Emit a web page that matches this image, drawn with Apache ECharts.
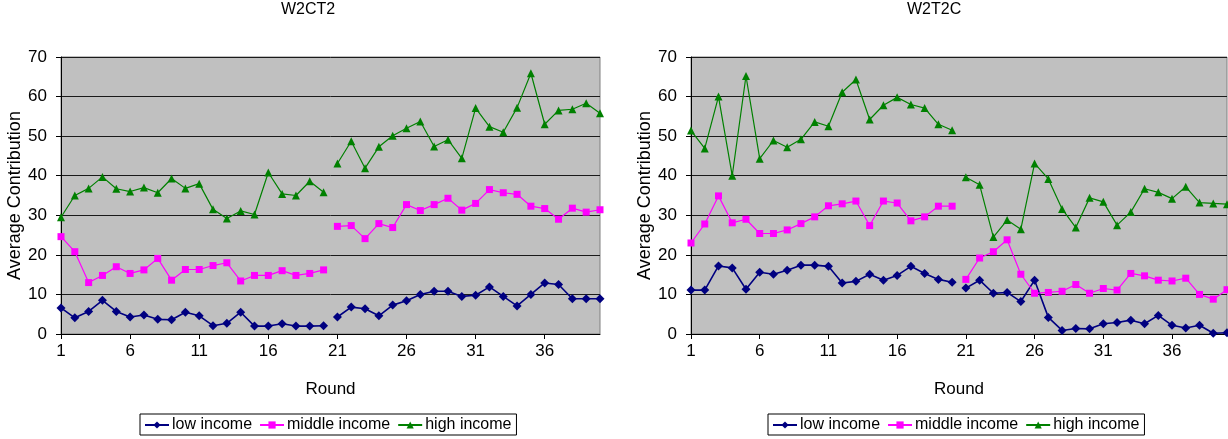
<!DOCTYPE html>
<html>
<head>
<meta charset="utf-8">
<script src="https://cdn.jsdelivr.net/npm/echarts@6/dist/echarts.min.js"></script>
<style>
  html, body { margin: 0; padding: 0; background: #fff; }
  #chart { width: 1228px; height: 439px; }
</style>
</head>
<body>
<div id="chart"></div>
<script>
// Rounds 1..40; the two treatment blocks are rounds 1-20 and 21-40
const rounds = Array.from({ length: 40 }, (_, i) => String(i + 1));
const titles = ['W2CT2', 'W2T2C'];
const seriesNames = ['low income', 'middle income', 'high income'];

// W2CT2 — first block (rounds 1-20) and second block (rounds 21-40)
const w2ct2LowA  = [6.6, 4.1, 5.7, 8.5, 5.7, 4.3, 4.8, 3.7, 3.6, 5.5, 4.6, 2.1, 2.7, 5.5, 2.0, 2.0, 2.6, 2.0, 2.0, 2.1];
const w2ct2LowB  = [4.3, 6.8, 6.4, 4.6, 7.3, 8.4, 10.0, 10.8, 10.8, 9.5, 9.8, 11.9, 9.5, 7.1, 10.0, 12.9, 12.5, 8.9, 8.9, 8.9];
const w2ct2MidA  = [24.6, 20.8, 13.0, 14.8, 17.0, 15.3, 16.2, 19.1, 13.6, 16.3, 16.3, 17.3, 18.0, 13.4, 14.8, 14.8, 16.0, 14.8, 15.3, 16.2];
const w2ct2MidB  = [27.2, 27.4, 24.1, 27.9, 26.9, 32.7, 31.2, 32.7, 34.3, 31.3, 33.0, 36.5, 35.7, 35.3, 32.3, 31.7, 29.0, 31.8, 30.8, 31.4];
const w2ct2HighA = [29.5, 35.0, 36.8, 39.7, 36.7, 36.0, 37.0, 35.7, 39.3, 36.8, 38.0, 31.5, 29.2, 31.1, 30.2, 40.8, 35.4, 35.0, 38.6, 35.8];
const w2ct2HighB = [43.1, 48.7, 41.9, 47.3, 50.1, 52.0, 53.7, 47.4, 49.1, 44.4, 57.1, 52.4, 51.0, 57.2, 65.9, 53.0, 56.5, 56.8, 58.3, 55.8];

// W2T2C — first block (rounds 1-20) and second block (rounds 21-40)
const w2t2cLowA  = [11.1, 11.1, 17.2, 16.7, 11.3, 15.6, 15.1, 16.1, 17.4, 17.4, 17.1, 12.9, 13.3, 15.1, 13.6, 14.8, 17.1, 15.3, 13.8, 13.1];
const w2t2cLowB  = [11.6, 13.6, 10.3, 10.5, 8.2, 13.6, 4.2, 0.9, 1.4, 1.3, 2.6, 2.9, 3.5, 2.6, 4.7, 2.2, 1.5, 2.2, 0.2, 0.3];
const w2t2cMidA  = [23.0, 27.8, 34.9, 28.1, 29.0, 25.4, 25.4, 26.3, 27.9, 29.6, 32.4, 32.9, 33.6, 27.4, 33.6, 33.1, 28.6, 29.6, 32.3, 32.3];
const w2t2cMidB  = [13.8, 19.2, 20.8, 23.8, 15.1, 10.3, 10.5, 10.8, 12.5, 10.3, 11.5, 11.1, 15.3, 14.7, 13.6, 13.4, 14.1, 10.0, 8.8, 11.2];
const w2t2cHighA = [51.4, 46.9, 60.0, 40.0, 65.2, 44.3, 48.9, 47.2, 49.2, 53.6, 52.5, 61.1, 64.3, 54.2, 57.8, 59.8, 58.0, 57.1, 53.0, 51.5];
const w2t2cHighB = [39.6, 37.7, 24.5, 28.8, 26.5, 43.1, 39.2, 31.6, 26.9, 34.4, 33.4, 27.5, 30.8, 36.7, 35.8, 34.2, 37.2, 33.2, 33.0, 32.8];

const FONT = 'Liberation Sans, Arial, sans-serif';
const styles = [
  { color: '#000080', symbol: 'diamond',  symbolSize: 9, width: 1.6 },
  { color: '#FF00FF', symbol: 'rect',     symbolSize: 7, width: 1.2 },
  { color: '#008000', symbol: 'triangle', symbolSize: 8, width: 1.2 }
];

const blank = new Array(20).fill(null);
const panels = [
  [[w2ct2LowA, w2ct2LowB], [w2ct2MidA, w2ct2MidB], [w2ct2HighA, w2ct2HighB]],
  [[w2t2cLowA, w2t2cLowB], [w2t2cMidA, w2t2cMidB], [w2t2cHighA, w2t2cHighB]]
];

const grids = [
  { left: 61, right: 628, top: 57, bottom: 105 },
  { left: 691, right: 1, top: 57, bottom: 105 }
];

const every5 = (idx) => idx % 5 === 0;

const option = {
  animation: false,
  backgroundColor: '#ffffff',
  textStyle: { fontFamily: FONT },
  title: [
    { text: titles[0], left: 281, top: 2, padding: 0, textStyle: { fontSize: 16, fontWeight: 'normal', color: '#000', fontFamily: FONT } },
    { text: titles[1], left: 907, top: 2, padding: 0, textStyle: { fontSize: 16, fontWeight: 'normal', color: '#000', fontFamily: FONT } }
  ],
  legend: [140, 768].map((x) => ({
    data: seriesNames,
    left: x,
    top: 414,
    orient: 'horizontal',
    padding: [3, 5, 2, 4],
    itemGap: 7,
    itemWidth: 24,
    itemHeight: 9,
    borderColor: '#000',
    borderWidth: 1,
    backgroundColor: '#fff',
    textStyle: { fontSize: 16, color: '#000', fontFamily: FONT, padding: [0, 0, 0, -2] }
  })),
  grid: grids.map((g) => Object.assign({
    show: true,
    backgroundColor: '#C0C0C0',
    borderColor: '#808080',
    borderWidth: 1
  }, g)),
  xAxis: [0, 1].map((gi) => ({
    type: 'category',
    gridIndex: gi,
    data: rounds,
    boundaryGap: false,
    name: 'Round',
    nameLocation: 'middle',
    nameGap: 47,
    nameTextStyle: { fontSize: 17, color: '#000', fontFamily: FONT },
    axisLine: { lineStyle: { color: '#000', width: 1 } },
    axisTick: { show: true, interval: (i) => every5(i), length: 5, lineStyle: { color: '#000' } },
    axisLabel: { interval: (i) => every5(i), margin: 9, fontSize: 17, color: '#000', fontFamily: FONT },
    splitLine: { show: false }
  })),
  yAxis: [0, 1].map((gi) => ({
    type: 'value',
    gridIndex: gi,
    min: 0,
    max: 70,
    interval: 10,
    name: 'Average Contribution',
    nameLocation: 'middle',
    nameGap: 37,
    nameTextStyle: { fontSize: 18, color: '#000', fontFamily: FONT },
    axisLine: { show: true, lineStyle: { color: '#000', width: 1 } },
    axisTick: { show: true, length: 5, lineStyle: { color: '#000' } },
    axisLabel: { margin: 14, fontSize: 17, color: '#000', fontFamily: FONT },
    splitLine: { show: true, lineStyle: { color: '#1a1a1a', width: 1 } }
  })),
  series: []
};

panels.forEach((panel, gi) => {
  panel.forEach(([blockA, blockB], si) => {
    const st = styles[si];
    [blockA.concat(blank), blank.concat(blockB)].forEach((data) => {
      option.series.push({
        name: seriesNames[si],
        type: 'line',
        xAxisIndex: gi,
        yAxisIndex: gi,
        data: data,
        connectNulls: false,
        symbol: st.symbol,
        symbolSize: st.symbolSize,
        showAllSymbol: true,
        itemStyle: { color: st.color, borderWidth: 0 },
        lineStyle: { color: st.color, width: st.width },
        emphasis: { disabled: true }
      });
    });
  });
});

const chart = echarts.init(document.getElementById('chart'), null, { renderer: 'canvas' });
chart.setOption(option);
</script>
</body>
</html>
